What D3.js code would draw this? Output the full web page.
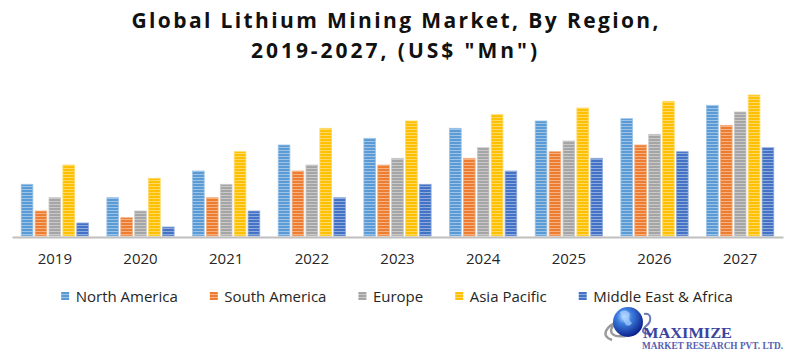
<!DOCTYPE html>
<html>
<head>
<meta charset="utf-8">
<script src="https://cdn.jsdelivr.net/npm/d3@7"></script>
<style>
  html, body { margin: 0; padding: 0; background: #ffffff; }
  svg { display: block; }
</style>
</head>
<body>
<svg id="chart" width="800" height="355"></svg>
<script>
// ---- Data ----
const years = ["2019", "2020", "2021", "2022", "2023", "2024", "2025", "2026", "2027"];
const regions = ["North America", "South America", "Europe", "Asia Pacific", "Middle East & Africa"];
const northAmerica = [51.7, 38.3, 65.0, 91.0, 97.7, 107.7, 115.0, 117.3, 130.7];
const southAmerica = [25.0, 18.3, 38.3, 65.0, 71.0, 77.7, 84.3, 91.0, 110.7];
const europe       = [38.3, 25.0, 51.7, 71.0, 77.7, 88.3, 95.0, 101.7, 124.0];
const asiaPacific  = [71.0, 57.7, 84.3, 107.7, 115.0, 121.3, 128.0, 134.7, 141.0];
const middleEastAfrica = [13.0, 9.0, 25.0, 38.3, 51.7, 65.0, 77.7, 84.3, 88.3];
const seriesValues = [northAmerica, southAmerica, europe, asiaPacific, middleEastAfrica];
const titleLines = ["Global Lithium Mining Market, By Region,", "2019-2027, (US$ \"Mn\")"];

// ---- Styles ----
const colors = ["#5B9BD5", "#ED7D31", "#A5A5A5", "#FFC000", "#4472C4"];
const lightColors = colors.map(c => d3.interpolateRgb(c, "#ffffff")(0.4));

const svg = d3.select("#chart");
const defs = svg.append("defs");

colors.forEach((c, i) => {
  const p = defs.append("pattern")
    .attr("id", "stripe" + i)
    .attr("patternUnits", "userSpaceOnUse")
    .attr("width", 4).attr("height", 3);
  p.append("rect").attr("width", 4).attr("height", 3).attr("fill", c);
  p.append("rect").attr("y", 0).attr("width", 4).attr("height", 1).attr("fill", lightColors[i]);
});

// ---- Title ----
const titleG = svg.append("g");
titleG.append("text")
  .attr("x", 395).attr("y", 28)
  .attr("text-anchor", "middle")
  .attr("font-family", "'Open Sans', sans-serif")
  .attr("font-weight", "bold")
  .attr("font-size", 21)
  .attr("fill", "#111")
  .attr("textLength", 527)
  .attr("lengthAdjust", "spacing")
  .text(titleLines[0]);
titleG.append("text")
  .attr("x", 394).attr("y", 58)
  .attr("text-anchor", "middle")
  .attr("font-family", "'Open Sans', sans-serif")
  .attr("font-weight", "bold")
  .attr("font-size", 21)
  .attr("fill", "#111")
  .attr("textLength", 286)
  .attr("lengthAdjust", "spacing")
  .text(titleLines[1]);

// ---- Scales ----
const baseY = 236;
const x0 = d3.scaleBand().domain(years).range([12, 783]).paddingInner(0.215).paddingOuter(0.1075);
const x1 = d3.scaleBand().domain(regions).range([0, x0.bandwidth()]).paddingInner(0.16).paddingOuter(0);
const y = d3.scaleLinear().domain([0, 150]).range([baseY, baseY - 150]);

// ---- Bars ----
const groups = svg.append("g").selectAll("g")
  .data(years)
  .join("g")
  .attr("transform", d => `translate(${x0(d)},0)`);

groups.selectAll("rect")
  .data((yr, yi) => regions.map((r, ri) => ({ region: r, ri, value: seriesValues[ri][yi] })))
  .join("rect")
  .attr("x", d => x1(d.region))
  .attr("y", d => y(d.value))
  .attr("width", x1.bandwidth())
  .attr("height", d => baseY - y(d.value))
  .attr("fill", d => `url(#stripe${d.ri})`)
  .attr("stroke", d => lightColors[d.ri])
  .attr("stroke-width", 0.8);

// ---- X axis ----
const axis = svg.append("g")
  .attr("transform", `translate(0,${baseY + 1})`)
  .call(d3.axisBottom(x0).tickSize(0).tickSizeOuter(0).tickPadding(16));
axis.select(".domain").attr("stroke", "#BFBFBF").attr("stroke-width", 2);
axis.selectAll("text")
  .attr("font-family", "'Open Sans', sans-serif")
  .attr("font-size", 15)
  .attr("fill", "#262626");

// ---- Legend ----
const legend = svg.append("g");
const items = legend.selectAll("g").data(regions).join("g");
items.append("rect")
  .attr("width", 8).attr("height", 8)
  .attr("y", 292)
  .attr("fill", (d, i) => `url(#stripe${i})`);
items.append("text")
  .attr("x", 14.5).attr("y", 302)
  .attr("font-family", "'Open Sans', sans-serif")
  .attr("font-size", 15)
  .attr("fill", "#262626")
  .text(d => d);
let lx = 0;
const widths = [];
items.each(function () {
  widths.push(this.querySelector("text").getComputedTextLength());
});
const total = widths.reduce((a, w) => a + 14.5 + w, 0) + 32 * (widths.length - 1);
lx = 397 - total / 2;
items.each(function (d, i) {
  d3.select(this).attr("transform", `translate(${lx},0)`);
  lx += 14.5 + widths[i] + 32;
});

// ---- Logo ----
const logo = svg.append("g");
const grad = defs.append("radialGradient").attr("id", "globeGrad")
  .attr("cx", "38%").attr("cy", "32%").attr("r", "70%");
grad.append("stop").attr("offset", "0%").attr("stop-color", "#cfe6ff");
grad.append("stop").attr("offset", "35%").attr("stop-color", "#3d7fe0");
grad.append("stop").attr("offset", "100%").attr("stop-color", "#0b1f8a");
logo.append("path")
  .attr("d", "M612,340 C600,336 606,326 618,322 C606,330 610,338 626,336")
  .attr("fill", "none").attr("stroke", "#9a9a9a").attr("stroke-width", 2.5);
logo.append("circle").attr("cx", 628).attr("cy", 322).attr("r", 15).attr("fill", "url(#globeGrad)");
logo.append("path")
  .attr("d", "M620,312 q6,-4 10,2 q-3,5 2,9 q-2,4 -6,2 q-4,-6 -6,-13 Z")
  .attr("fill", "#a9d2ff").attr("opacity", 0.7);
logo.append("path")
  .attr("d", "M644,314 C652,312 652,322 646,326 C642,330 640,334 652,334")
  .attr("fill", "none").attr("stroke", "#6a78b8").attr("stroke-width", 2);
logo.append("text")
  .attr("x", 643).attr("y", 338)
  .attr("font-family", "'Liberation Serif', 'DejaVu Serif', serif")
  .attr("font-weight", "bold")
  .attr("font-size", 15)
  .attr("fill", "#3a44a0")
  .attr("textLength", 89).attr("lengthAdjust", "spacingAndGlyphs")
  .text("MAXIMIZE");
logo.append("text")
  .attr("x", 642).attr("y", 349)
  .attr("font-family", "'Liberation Serif', 'DejaVu Serif', serif")
  .attr("font-weight", "bold")
  .attr("font-size", 9.5)
  .attr("fill", "#5560b0")
  .attr("textLength", 141).attr("lengthAdjust", "spacingAndGlyphs")
  .text("MARKET RESEARCH PVT. LTD.");
</script>
</body>
</html>
